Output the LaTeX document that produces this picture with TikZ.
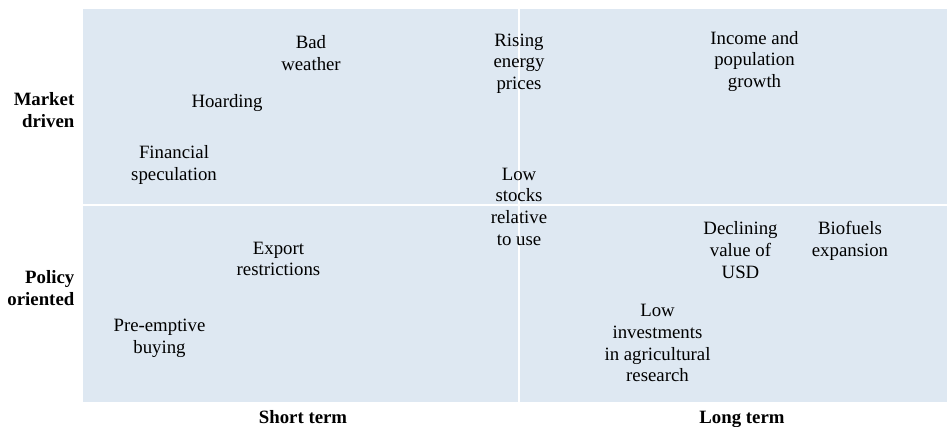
\documentclass[tikz,border=0pt]{standalone}
\usepackage{fontspec}
\setmainfont{Liberation Serif}
\usepackage{xcolor}
\usepackage{tikz}
\usetikzlibrary{positioning}

\definecolor{panelblue}{RGB}{222,232,242}

\tikzset{
  factor/.style={align=center, inner sep=0pt, font=\fontsize{18.8}{21.7}\selectfont},
  rowlabel/.style={align=right, anchor=east, inner sep=0pt, font=\fontsize{18.8}{21.7}\selectfont\bfseries},
  collabel/.style={anchor=base, inner sep=0pt, font=\fontsize{18.8}{21.7}\selectfont\bfseries}
}

\begin{document}
\begin{tikzpicture}[x=1pt, y=-1pt]
  \useasboundingbox (0,0) rectangle (947,427);

  % panel background
  \fill[panelblue] (83,9.5) rectangle (947,401.7);

  % white separators
  \draw[white, line width=2pt] (83,205.5) -- (947,205.5);
  \draw[white, line width=2pt] (519,9.5) -- (519,401.7);

  % row labels
  \node[rowlabel] (market) at (74.5,110) {Market\\driven};
  \node[rowlabel] (policy) at (74.5,288) {Policy\\oriented};

  % column labels
  \node[collabel] (short) at (303,423.5) {Short term};
  \node[collabel] (long) at (742,423.5) {Long term};

  % market driven, short term
  \node[factor] (weather) at (311,53) {Bad\\weather};
  \node[factor] (hoarding) at (227,103.5) {Hoarding};
  \node[factor] (speculation) at (174,165) {Financial\\speculation};

  % market driven, long term
  \node[factor] (energy) at (519,63.5) {Rising\\energy\\prices};
  \node[factor] (income) at (754.5,61.5) {Income and\\population\\growth};
  \node[factor] (stocks) at (519,206.7) {Low\\stocks\\relative\\to use};

  % policy oriented
  \node[factor] (export) at (278.5,258.8) {Export\\restrictions};
  \node[factor] (preemptive) at (159.5,338) {Pre-emptive\\buying};
  \node[factor] (usd) at (740.5,250) {Declining\\value of\\USD};
  \node[factor] (biofuels) at (850,241) {Biofuels\\expansion};
  \node[factor] (research) at (657.5,343.3) {Low\\investments\\in agricultural\\research};

\end{tikzpicture}
\end{document}
